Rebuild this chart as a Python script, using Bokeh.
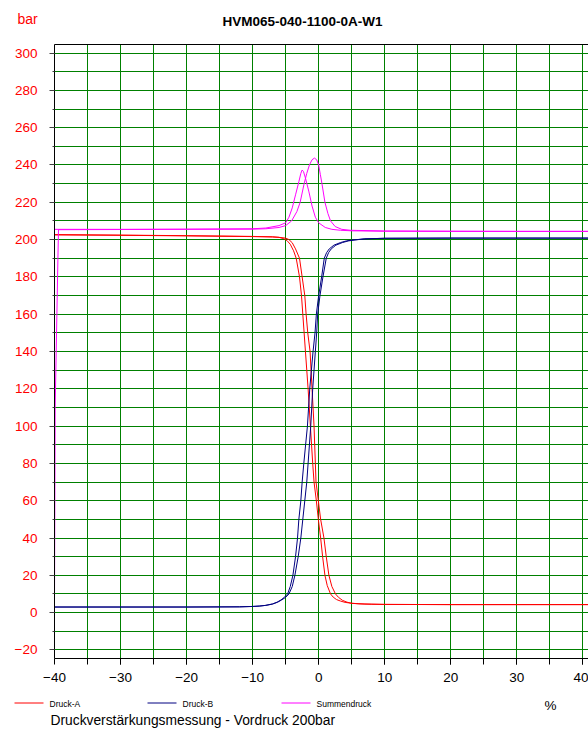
from bokeh.plotting import figure
from bokeh.layouts import column
from bokeh.models import FixedTicker, LinearAxis, Range1d
from bokeh.core.properties import value
from bokeh.embed import file_html
from bokeh.resources import INLINE

# ---- data (x in %, pressure in bar) ----
# Druck-A, two sweeps
a1_x = [-40, -40, -30, -20, -10, -7, -6, -5.3, -4.8, -4.3, -3.8, -3.4, -2.9, -2.6, -2.4, -2.2, -2.0, -1.6,
        -1.25, -0.9, -0.7, -0.35, -0.05, 0.3, 0.6, 0.95, 1.3, 1.8, 2.2, 2.7, 3.3, 4.0, 5.0, 7.0, 10, 20, 30, 40.8]
a1_y = [4, 202.7, 202.4, 202.1, 201.7, 201.5, 201.2, 200.5, 199.5, 197.5, 194, 190, 180, 170, 160, 150, 140, 120,
        100, 80, 70, 60, 50, 40, 30, 20, 14.5, 10, 8.3, 7.0, 6.2, 5.5, 5.0, 4.6, 4.4, 4.3, 4.3, 4.3]
a2_x = [-40, -30, -20, -10, -7, -6, -5, -4.5, -4, -3.5, -2.9, -2.5, -2.1, -1.9, -1.65, -1.3, -1.0, -0.7,
        -0.5, -0.4, -0.05, 0.3, 0.8, 1.15, 1.55, 2.0, 2.55, 3.0, 3.6, 4.3, 5.0, 6.0, 8.0, 10, 20, 30, 40.8]
a2_y = [202.5, 202.3, 202.0, 201.6, 201.4, 201.2, 200.8, 200.0, 198.3, 195, 190, 180, 170, 160, 150, 140, 120, 100,
        80, 70, 60, 50, 40, 30, 20, 14, 10, 8.2, 6.6, 5.6, 5.0, 4.7, 4.5, 4.4, 4.3, 4.3, 4.3]

# Druck-B, two sweeps
b1_x = [-40, -30, -20, -12, -10, -9, -8, -7, -6.3, -5.7, -5.2, -4.7, -4.3, -3.9, -3.5, -3.2, -3.0, -2.7, -2.5,
        -2.25, -1.7, -1.35, -0.85, -0.55, -0.35, 0.0, 0.45, 0.85, 1.2, 1.6, 2.3, 3.3, 4.2, 5.2, 7.0, 10, 20, 30, 40.8]
b1_y = [3.0, 3.0, 3.0, 3.1, 3.3, 3.5, 3.9, 4.6, 5.6, 6.8, 8.2, 10, 14, 20, 30, 40, 50, 60, 70,
        80, 100, 120, 140, 150, 160, 170, 180, 190, 193, 195, 197, 198.4, 199.3, 199.8, 200.4, 200.7, 200.8, 200.8, 200.8]
b2_x = [-40, -30, -20, -12, -10, -9, -8, -7, -6.2, -5.6, -5.0, -4.5, -4.0, -3.6, -3.1, -2.7, -2.4, -2.1, -1.8,
        -1.6, -1.2, -0.9, -0.5, -0.3, -0.15, 0.2, 0.65, 1.15, 1.5, 1.9, 2.6, 3.6, 4.5, 5.5, 7.0, 10, 20, 30, 40.8]
b2_y = [3.0, 3.0, 3.0, 3.1, 3.3, 3.5, 3.9, 4.6, 5.6, 6.8, 8.2, 10, 14, 20, 30, 40, 50, 60, 70,
        80, 100, 120, 140, 150, 160, 170, 180, 190, 193, 195, 197, 198.4, 199.3, 199.8, 200.4, 200.7, 200.8, 200.8, 200.8]

# Summendruck, two sweeps
s1_x = [-40, -40, -30, -20, -10, -8, -6, -5, -4.5, -4, -3.5, -3.0, -2.7, -2.5, -2.3, -2.0, -1.5, -1.0,
        -0.5, 0, 1, 2, 3.3, 5, 10, 20, 30, 40.8]
s1_y = [7, 205.5, 205.5, 205.6, 205.8, 206.2, 207.5, 209, 212, 217, 224, 231, 235.5, 237.3, 236.5, 233, 226, 218,
        212, 209, 206.5, 205.5, 205, 204.7, 204.5, 204.4, 204.4, 204.4]
s2_x = [-40, -39.9, -39.4, -30, -20, -10, -8, -6, -5, -4.1, -3.3, -2.8, -2.2, -1.8, -1.4, -1.0, -0.64, -0.3,
        0.0, 0.25, 0.5, 0.95, 1.4, 1.8, 2.5, 3.5, 4.8, 10, 20, 30, 40.8]
s2_y = [7, 110, 205.3, 205.4, 205.5, 205.6, 205.8, 206.5, 207.5, 210, 215, 220, 230, 235.5, 240, 242.8, 243.7, 242.8,
        240, 235, 230, 220, 214, 210, 207, 205.5, 205, 204.6, 204.5, 204.4, 204.4]

y_major = list(range(-20, 301, 20))
y_minor = list(range(-20, 301, 10))
x_major = list(range(-40, 41, 10))
x_minor = list(range(-35, 41, 5))

series_names = ["Druck-A", "Druck-B", "Summendruck"]
series_colors = ["#ff0000", "#000080", "#ff00ff"]

title_text = "HVM065-040-1100-0A-W1"
unit_y = "bar"
unit_x = "%"
subtitle = "Druckverstärkungsmessung - Vordruck 200bar"

FONT = "Liberation Sans"
W = 588

# ---------------- header strip (title and unit), page-pixel coordinates ----------------
top = figure(width=W, height=40, x_range=Range1d(0, W), y_range=Range1d(40, 0),
             x_axis_type=None, y_axis_type=None, output_backend="svg", toolbar_location=None,
             min_border=0, title=None, frame_align=False)
top.outline_line_color = None
top.text(x=[302], y=[21.4], text=[title_text], text_align="center", text_baseline="middle",
         text_font=value(FONT), text_font_style="bold", text_font_size="13.5px", text_color="black")
top.text(x=[17], y=[18.4], text=[unit_y], text_align="left", text_baseline="middle",
         text_font=value(FONT), text_font_size="14px", text_color="#ff0000")

# ---------------- main chart ----------------
p = figure(width=W, height=650, title=None,
           x_range=Range1d(-40, 40.86), y_range=Range1d(-24.6, 304.6),
           output_backend="svg", toolbar_location=None, frame_align=False,
           min_border_left=54, min_border_right=0, min_border_top=4, min_border_bottom=32)
p.outline_line_color = None

p.xgrid.ticker = FixedTicker(ticks=x_minor)
p.ygrid.ticker = FixedTicker(ticks=y_minor)
for g in (p.xgrid, p.ygrid):
    g.grid_line_color = "#008000"
    g.grid_line_width = 1
    g.grid_line_alpha = 1.0

ya = p.yaxis[0]
ya.ticker = FixedTicker(ticks=y_major, minor_ticks=y_minor)
ya.axis_line_color = "black"
ya.major_tick_out = 5
ya.major_tick_in = 0
ya.minor_tick_out = 2
ya.minor_tick_in = 0
ya.major_tick_line_color = "#404040"
ya.minor_tick_line_color = "#404040"
ya.major_label_text_color = "#ff0000"
ya.major_label_text_font = FONT
ya.major_label_text_font_size = "13.5px"
ya.major_label_standoff = 12

xa = p.xaxis[0]
xa.ticker = FixedTicker(ticks=x_major, minor_ticks=x_minor)
xa.axis_line_color = "black"
xa.major_tick_out = 6
xa.major_tick_in = 0
xa.minor_tick_out = 6
xa.minor_tick_in = 0
xa.major_tick_line_color = "black"
xa.minor_tick_line_color = "black"
xa.major_label_text_color = "black"
xa.major_label_text_font = FONT
xa.major_label_text_font_size = "13.5px"
xa.major_label_standoff = 8

border_top = LinearAxis(ticker=FixedTicker(ticks=[]), axis_line_color="black",
                        major_tick_line_color=None, minor_tick_line_color=None,
                        major_tick_out=0, minor_tick_out=0, major_label_standoff=0,
                        major_label_text_font_size="0px")
p.add_layout(border_top, "above")

for (xs, ys, c) in [(a1_x, a1_y, series_colors[0]), (a2_x, a2_y, series_colors[0]),
                    (b1_x, b1_y, series_colors[1]), (b2_x, b2_y, series_colors[1]),
                    (s1_x, s1_y, series_colors[2]), (s2_x, s2_y, series_colors[2])]:
    p.line(xs, ys, line_color=c, line_width=1)

# ---------------- footer strip (legend, unit, caption), page-pixel coordinates ----------------
bot = figure(width=W, height=41, x_range=Range1d(0, W), y_range=Range1d(731, 690),
             x_axis_type=None, y_axis_type=None, output_backend="svg", toolbar_location=None,
             min_border=0, title=None, frame_align=False)
bot.outline_line_color = None
leg_x0 = [14, 147, 281]
leg_len = 29
leg_y = 702.5
bot.segment(x0=leg_x0, y0=[leg_y] * 3, x1=[x + leg_len for x in leg_x0], y1=[leg_y] * 3,
            line_color=series_colors, line_width=1)
bot.text(x=[x + 35 for x in leg_x0], y=[leg_y + 0.5] * 3, text=series_names,
         text_align="left", text_baseline="middle", text_font=value(FONT),
         text_font_size="8.5px", text_color="black")
bot.text(x=[544], y=[704.8], text=[unit_x], text_align="left", text_baseline="middle",
         text_font=value(FONT), text_font_size="13.5px", text_color="black")
bot.text(x=[50], y=[720.2], text=[subtitle], text_align="left", text_baseline="middle",
         text_font=value(FONT), text_font_size="13.8px", text_color="black")

layout = column(top, p, bot, spacing=0)
open("out.html", "w").write(file_html(layout, INLINE))
